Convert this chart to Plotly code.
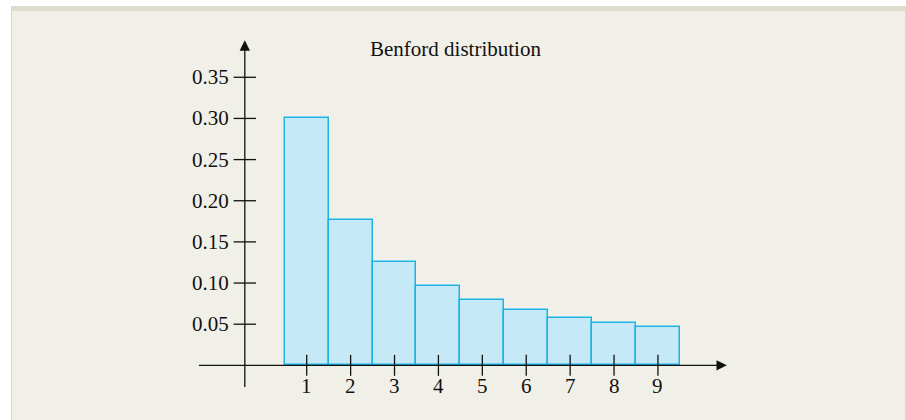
import numpy as np
import plotly.graph_objects as go

# Benford first-digit probabilities
digits = [1, 2, 3, 4, 5, 6, 7, 8, 9]
probs = [0.301, 0.176, 0.125, 0.097, 0.079, 0.067, 0.058, 0.051, 0.046]
y_ticks = [0.05, 0.10, 0.15, 0.20, 0.25, 0.30, 0.35]
y_labels = ["0.05", "0.10", "0.15", "0.20", "0.25", "0.30", "0.35"]
title = "Benford distribution"

W, H = 906, 420
# data ranges chosen so the plot area fills the whole page
xr = [-5.986, 14.65]
yr = [-0.0664, 0.4439]
pxx = W / (xr[1] - xr[0])   # pixels per x unit
pxy = H / (yr[1] - yr[0])   # pixels per y unit

yax_x = -0.41               # where the vertical axis crosses
font = dict(family="Liberation Serif, Times New Roman, serif", size=21, color="#111")

fig = go.Figure()

fig.add_trace(go.Bar(x=digits, y=probs, width=1.0,
                     marker=dict(color="#c6e9f8",
                                 line=dict(color="#1db3e6", width=1.5)),
                     hoverinfo="skip"))

# tick marks crossing the axes
fig.add_trace(go.Scatter(x=digits, y=[0] * len(digits), mode="markers",
                         marker=dict(symbol="line-ns", size=15,
                                     line=dict(color="#111", width=1.3)),
                         hoverinfo="skip"))
fig.add_trace(go.Scatter(x=[yax_x] * len(y_ticks), y=y_ticks, mode="markers",
                         marker=dict(symbol="line-ew", size=16,
                                     line=dict(color="#111", width=1.3)),
                         hoverinfo="skip"))

ann = []
# axes with arrow heads
ann.append(dict(x=10.57, y=0, ax=-1.49, ay=0, xref="x", yref="y",
                axref="x", ayref="y", text="", showarrow=True,
                arrowhead=2, arrowsize=1.6, arrowwidth=1.3, arrowcolor="#111",
                standoff=0))
ann.append(dict(x=yax_x, y=0.395, ax=yax_x, ay=-0.028, xref="x", yref="y",
                axref="x", ayref="y", text="", showarrow=True,
                arrowhead=2, arrowsize=1.6, arrowwidth=1.3, arrowcolor="#111",
                standoff=0))
for v, lab in zip(y_ticks, y_labels):
    ann.append(dict(x=yax_x - 14 / pxx, y=v, xref="x", yref="y", text=lab,
                    showarrow=False, xanchor="right", yanchor="middle", font=font))
for d in digits:
    ann.append(dict(x=d, y=-21 / pxy, xref="x", yref="y", text=str(d),
                    showarrow=False, xanchor="center", yanchor="middle", font=font))
ann.append(dict(x=455 / W, y=1 - 49 / H, xref="paper", yref="paper", text=title,
                showarrow=False, xanchor="center", yanchor="middle", font=font))

shapes = [
    dict(type="rect", xref="paper", yref="paper", x0=11 / W, x1=1, y0=0, y1=1 - 6 / H,
         fillcolor="#f1f0e8", line=dict(width=0), layer="below"),
    dict(type="rect", xref="paper", yref="paper", x0=11 / W, x1=1, y0=1 - 11 / H, y1=1 - 6 / H,
         fillcolor="#dedccb", line=dict(width=0), layer="below"),
    dict(type="rect", xref="paper", yref="paper", x0=11 / W, x1=12 / W, y0=0, y1=1 - 6 / H,
         fillcolor="#dcdac8", line=dict(width=0), layer="below"),
    dict(type="rect", xref="paper", yref="paper", x0=905 / W, x1=1, y0=0, y1=1 - 6 / H,
         fillcolor="#dcdac8", line=dict(width=0), layer="below"),
]

fig.update_layout(width=W, height=H, margin=dict(l=0, r=0, t=0, b=0),
                  paper_bgcolor="white", plot_bgcolor="rgba(0,0,0,0)",
                  showlegend=False, bargap=0,
                  xaxis=dict(range=xr, visible=False, fixedrange=True),
                  yaxis=dict(range=yr, visible=False, fixedrange=True),
                  annotations=ann, shapes=shapes)

fig.write_html("out.html", config=dict(displayModeBar=False),
               post_script="document.body.style.margin='0';document.body.style.overflow='hidden';")
